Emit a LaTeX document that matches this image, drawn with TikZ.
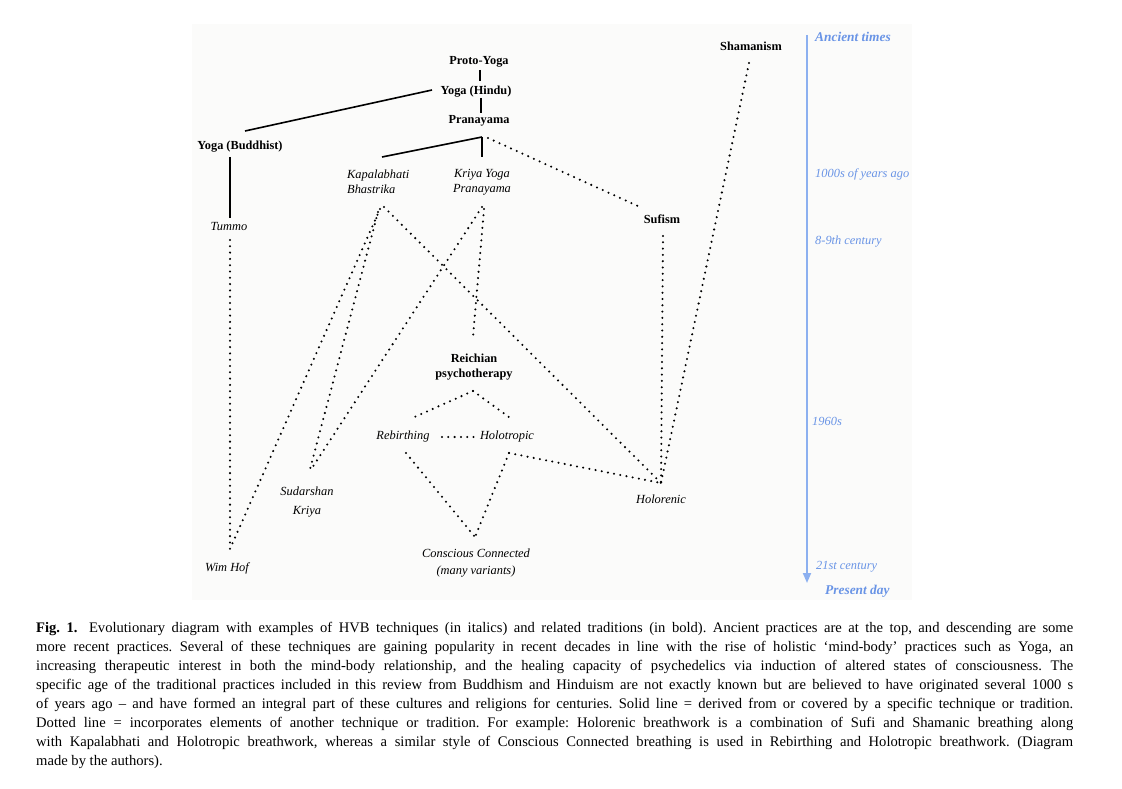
\documentclass[tikz,border=0pt]{standalone}
\usepackage{fontspec}
\setmainfont{Liberation Serif}
\usetikzlibrary{arrows.meta}
\definecolor{tlline}{RGB}{140,176,240}
\definecolor{tltext}{RGB}{105,148,230}
\definecolor{panel}{RGB}{251,251,250}
\newcommand\capline[1]{\hbox to 1037pt{#1}}
\begin{document}
\begin{tikzpicture}[x=1pt,y=-1pt,
  trad/.style={font=\fontsize{12.3}{14.5}\selectfont\bfseries, inner sep=0pt, align=center},
  tech/.style={font=\fontsize{12.4}{15.5}\selectfont\itshape, inner sep=0pt, align=center},
  era/.style={font=\fontsize{12.4}{14}\selectfont\itshape, text=tltext, anchor=west, inner sep=0pt},
  eraB/.style={font=\fontsize{13.4}{15}\selectfont\bfseries\itshape, text=tltext, anchor=west, inner sep=0pt},
  solidlink/.style={line width=1.6pt},
  dotlink/.style={line width=2.3pt, line cap=round, dash pattern=on 0pt off 6.3pt},
  timeline/.style={line width=1.8pt, draw=tlline, -{Triangle[width=8pt,length=10pt]}},
]
\useasboundingbox (0,0) rectangle (1122,789);
\fill[panel] (192,24) rectangle (912,600);

% ---------- nodes ----------
\node[trad] (proto) at (479,62) {Proto-Yoga};
\node[trad] (hindu) at (476,92) {Yoga (Hindu)};
\node[trad] (prana) at (479,121) {Pranayama};
\node[trad] (budd) at (240,147) {Yoga (Buddhist)};
\node[tech] (tummo) at (229,227) {Tummo};
\node[tech, align=left, anchor=west] (kap) at (347,182) {Kapalabhati\\Bhastrika};
\node[tech] (kriya) at (482,182) {Kriya Yoga\\Pranayama};
\node[trad] (sufism) at (662,219) {Sufism};
\node[trad] (shaman) at (751,46) {Shamanism};
\node[trad] (reich) at (474,367) {Reichian\\psychotherapy};
\node[tech] (rebirth) at (403,437) {Rebirthing};
\node[tech] (holo) at (507,437) {Holotropic};
\node[tech] (consc) at (476,563) {Conscious Connected\\[1.5pt](many variants)};
\node[tech] (sudar) at (307,502) {Sudarshan\\[3.5pt]Kriya};
\node[tech] (wimhof) at (227,568) {Wim Hof};
\node[tech] (holoren) at (661,499) {Holorenic};

% ---------- connector end points ----------
\coordinate (protoS) at (480,70);
\coordinate (hinduN) at (480,81);
\coordinate (hinduS) at (481,98);
\coordinate (pranaN) at (481,113);
\coordinate (hinduW) at (432,90);
\coordinate (buddN) at (245,131);
\coordinate (buddS) at (230,157);
\coordinate (tummoN) at (230,218);
\coordinate (pranaS) at (482,137);
\coordinate (pranaSE) at (488,138);
\coordinate (kapN) at (382,157);
\coordinate (kriyaN) at (482,157);
\coordinate (sufismNW) at (640,207);
\coordinate (sufismS) at (663,236);
\coordinate (shamanS) at (749,63);
\coordinate (holorenN) at (661,483);
\coordinate (tummoS) at (230,240);
\coordinate (wimhofN) at (230,549);
\coordinate (kapS1) at (384,207);
\coordinate (kapS2) at (380,209);
\coordinate (kapS3) at (378,212);
\coordinate (sudarN1) at (309,473);
\coordinate (sudarN2) at (312,468);
\coordinate (kriyaS1) at (482,207);
\coordinate (kriyaS2) at (484,209);
\coordinate (reichN) at (473,337);
\coordinate (reichS) at (473,391);
\coordinate (rebirthNE) at (410,419);
\coordinate (holoNW) at (513,420);
\coordinate (rebirthE) at (442,437);
\coordinate (holoW) at (475,437);
\coordinate (rebirthS) at (406,453);
\coordinate (holoS) at (509,453);
\coordinate (conscN) at (475,537);

% ---------- solid connectors ----------
\draw[solidlink] (protoS) -- (hinduN);
\draw[solidlink] (hinduS) -- (pranaN);
\draw[solidlink] (hinduW) -- (buddN);
\draw[solidlink] (buddS) -- (tummoN);
\draw[solidlink] (pranaS) -- (kapN);
\draw[solidlink] (pranaS) -- (kriyaN);

% ---------- dotted connectors ----------
\draw[dotlink] (pranaSE) -- (sufismNW);
\draw[dotlink] (shamanS) -- (holorenN);
\draw[dotlink] (sufismS) -- (holorenN);
\draw[dotlink] (tummoS) -- (wimhofN);
\draw[dotlink] (kapS2) -- (wimhofN);
\draw[dotlink] (kapS3) -- (sudarN1);
\draw[dotlink] (kapS1) -- (holorenN);
\draw[dotlink] (kriyaS1) -- (sudarN2);
\draw[dotlink] (kriyaS2) -- (reichN);
\draw[dotlink] (reichS) -- (rebirthNE);
\draw[dotlink] (reichS) -- (holoNW);
\draw[dotlink] (rebirthE) -- (holoW);
\draw[dotlink] (rebirthS) -- (conscN);
\draw[dotlink] (holoS) -- (conscN);
\draw[dotlink] (holoS) -- (holorenN);

% ---------- timeline ----------
\coordinate (tltop) at (807,35);
\coordinate (tlbot) at (807,583);
\draw[timeline] (tltop) -- (tlbot);
\node[eraB] (ancient) at (815,37) {Ancient times};
\node[era] (thousands) at (815,174) {1000s of years ago};
\node[era] (ninth) at (815,242) {8-9th century};
\node[era] (sixties) at (812,421) {1960s};
\node[era] (twentyfirst) at (816,567) {21st century};
\node[eraB] (present) at (825,591) {Present day};

% ---------- caption ----------
\node[anchor=base west, inner sep=0pt] (caption) at (36,632) {\vtop{\fontsize{14.6}{19}\selectfont\frenchspacing
\capline{\textbf{Fig. 1.}\hspace{5pt} Evolutionary diagram with examples of HVB techniques (in italics) and related traditions (in bold). Ancient practices are at the top, and descending are some}
\capline{more recent practices. Several of these techniques are gaining popularity in recent decades in line with the rise of holistic ‘mind-body’ practices such as Yoga, an}
\capline{increasing therapeutic interest in both the mind-body relationship, and the healing capacity of psychedelics via induction of altered states of consciousness. The}
\capline{specific age of the traditional practices included in this review from Buddhism and Hinduism are not exactly known but are believed to have originated several 1000 s}
\capline{of years ago – and have formed an integral part of these cultures and religions for centuries. Solid line = derived from or covered by a specific technique or tradition.}
\capline{Dotted line = incorporates elements of another technique or tradition. For example: Holorenic breathwork is a combination of Sufi and Shamanic breathing along}
\capline{with Kapalabhati and Holotropic breathwork, whereas a similar style of Conscious Connected breathing is used in Rebirthing and Holotropic breathwork. (Diagram}
\hbox{made by the authors).}}};
\end{tikzpicture}
\end{document}
